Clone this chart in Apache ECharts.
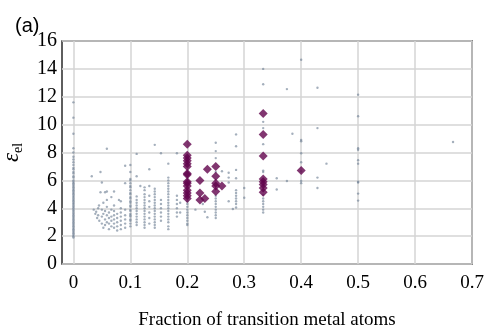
<!DOCTYPE html>
<html>
<head>
<meta charset="utf-8">
<script src="https://cdn.jsdelivr.net/npm/echarts@6/dist/echarts.min.js"></script>
<style>html,body{margin:0;padding:0;background:#fff}#c{width:485px;height:328px}</style>
</head>
<body>
<div id="c"></div>
<script>
const xTicks = [0, 0.1, 0.2, 0.3, 0.4, 0.5, 0.6, 0.7];
const yTicks = [0, 2, 4, 6, 8, 10, 12, 14, 16];

// grey points arranged in vertical columns (x value, list of y values)
const greyColX = [0, 0.1, 0.1111, 0.125, 0.1333, 0.1429, 0.1538, 0.1667, 0.1818, 0.2, 0.25, 0.2857, 0.3333, 0.4, 0.5];
const greyColY = [
  [11.6, 10.5, 9.35, 8.3, 8.0, 7.7, 7.5, 7.3, 7.1, 6.9, 6.8, 6.6, 6.5, 6.3, 6.2, 6.0, 5.9, 5.8, 5.7, 5.6, 5.5, 5.4, 5.3, 5.2, 5.1, 5.0, 4.9, 4.8, 4.7, 4.6, 4.5, 4.4, 4.3, 4.2, 4.1, 4.0, 3.9, 3.8, 3.7, 3.6, 3.5, 3.4, 3.3, 3.2, 3.1, 3.0, 2.9, 2.8, 2.7, 2.6, 2.5, 2.4, 2.3, 2.2, 2.1, 2.0, 1.9],
  [7.1, 6.6, 6.1, 6.0, 5.8, 5.6, 5.5, 5.3, 5.1, 5.0, 4.8, 4.7, 4.5, 4.4, 4.2, 4.1, 3.9, 3.8, 3.6, 3.5, 3.4, 3.2, 3.1, 2.9, 2.7],
  [7.9, 6.3, 4.85, 4.6, 4.4, 4.2, 4.0, 3.8, 3.6, 3.4, 3.2, 3.0, 2.8],
  [5.5, 5.3, 5.0, 4.8, 4.6, 4.4, 4.2, 4.0, 3.8, 3.6, 3.4, 3.2, 3.0, 2.8, 2.6],
  [6.8, 5.6, 4.9, 4.5, 4.1, 3.7, 3.3, 2.9],
  [8.55, 5.4, 5.2, 5.0, 4.8, 4.6, 4.4, 4.2, 4.0, 3.8, 3.6, 3.4, 3.2, 3.0, 2.8, 2.6],
  [7.95, 4.6, 4.3, 4.0, 3.7, 3.4, 3.1],
  [7.2, 6.2, 6.0, 5.8, 5.6, 5.4, 5.2, 5.0, 4.8, 4.6, 4.4, 4.2, 4.0, 3.8, 3.6, 3.4, 3.2, 3.0, 2.7, 2.5],
  [7.95, 4.9, 4.6, 4.3, 4.0, 3.7, 3.4],
  [4.5, 4.3, 4.1, 3.9, 3.7, 3.5, 3.3, 3.1, 2.9, 2.8],
  [8.7, 8.1, 7.6, 6.6, 4.9, 4.7, 4.5, 4.3, 4.1, 3.9, 3.7, 3.5, 3.3],
  [9.3, 8.45, 6.75, 6.15, 5.3, 5.1, 4.9, 4.7, 4.5, 4.3, 4.05],
  [14.0, 12.9, 10.2, 9.75, 8.6, 6.7, 6.6, 4.95, 4.7, 4.5, 4.3, 4.1, 3.9, 3.7],
  [14.65, 8.9, 8.8, 7.95, 7.3, 6.65, 5.95, 5.8],
  [12.15, 10.6, 8.3, 8.2, 7.45, 7.2, 5.9, 5.85, 5.05, 4.55]
];

// low-x cluster of grey points
const greyCluster = [
  [0.0357,3.9],[0.0385,3.6],[0.04,3.75],[0.0417,3.3],[0.0435,4.0],[0.0435,3.5],[0.0455,3.1],[0.05,3.9],[0.05,3.4],[0.05,2.9],
  [0.0526,3.6],[0.0526,2.6],[0.0556,3.8],[0.0556,3.2],[0.0556,2.8],[0.0588,4.1],[0.0588,3.5],[0.0588,3.0],[0.0625,3.7],[0.0625,3.3],
  [0.0625,2.9],[0.0625,2.5],[0.0667,3.9],[0.0667,3.4],[0.0667,3.1],[0.0667,2.7],[0.0714,4.2],[0.0714,3.8],[0.0714,3.5],[0.0714,3.2],
  [0.0714,2.9],[0.0714,2.6],[0.0769,3.6],[0.0769,3.3],[0.0769,3.0],[0.0769,2.7],[0.0769,2.4],[0.0833,4.0],[0.0833,3.7],[0.0833,3.4],
  [0.0833,3.1],[0.0833,2.8],[0.0833,2.5],[0.0909,3.9],[0.0909,3.5],[0.0909,3.2],[0.0909,2.9],[0.0909,2.6],[0.08,4.6],[0.0667,4.8],
  [0.0588,5.2],[0.045,4.2],[0.0588,4.6]
];

// scattered isolated grey points
const greySparse = [
  [0.0588,8.27],[0.0323,6.3],[0.0476,6.6],[0.05,5.85],[0.0476,5.15],[0.0556,5.15],[0.0714,5.2],[0.0526,4.4],
  [0.0909,7.05],[0.0909,5.8],[0.0833,4.5],[0.1176,5.6],[0.1875,4.4],[0.1875,3.7],[0.2143,3.9],[0.2273,4.3],
  [0.2308,3.75],[0.2353,3.35],[0.2609,6.65],[0.2727,6.55],[0.2727,6.2],[0.2727,5.85],[0.2727,4.5],[0.28,3.95],
  [0.3,5.45],[0.3,4.75],[0.3571,6.15],[0.3571,5.35],[0.375,5.95],[0.375,12.55],[0.3846,9.35],[0.4286,12.65],
  [0.4286,9.75],[0.4286,6.2],[0.4286,5.45],[0.4444,7.2],[0.6667,8.75]
];

// highlighted (purple) points
const purplePoints = [
  [0.2,8.6],[0.2,7.8],[0.2,7.6],[0.2,7.4],[0.2,7.2],[0.2,7.0],[0.2,6.5],[0.2,6.4],[0.2,5.9],[0.2,5.8],[0.2,5.6],[0.2,5.3],[0.2,5.1],[0.2,4.9],[0.2,4.7],
  [0.2222,6.0],[0.2222,5.1],[0.2222,4.6],[0.2308,4.7],[0.2353,6.8],
  [0.25,7.0],[0.25,6.3],[0.25,5.8],[0.25,5.6],[0.25,5.2],[0.2609,5.6],
  [0.3333,10.8],[0.3333,9.3],[0.3333,7.75],[0.3333,6.1],[0.3333,5.9],[0.3333,5.7],[0.3333,5.45],[0.3333,5.15],
  [0.4,6.7]
];

const greyData = [];
greyColX.forEach((x, i) => greyColY[i].forEach(y => greyData.push([x, y])));
greyCluster.forEach(p => greyData.push(p));
greySparse.forEach(p => greyData.push(p));

const serif = 'Liberation Serif';
const chart = echarts.init(document.getElementById('c'), null, {renderer: 'canvas'});
chart.setOption({
  animation: false,
  backgroundColor: '#fff',
  title: {
    text: '(a)', left: 10, top: 11,
    textStyle: {fontFamily: 'Liberation Sans', fontSize: 20, fontWeight: 'normal', color: '#000'}
  },
  grid: {left: 62, right: 13, top: 41, bottom: 64, show: true, borderColor: '#2a2a2a', borderWidth: 1.5, outerBoundsMode: 'none'},
  xAxis: {
    type: 'value', min: -0.02, max: 0.7,
    name: 'Fraction of transition metal atoms', nameLocation: 'middle', nameGap: 47,
    nameTextStyle: {fontFamily: serif, fontSize: 19, color: '#000'},
    axisLine: {show: false},
    axisTick: {show: false, customValues: xTicks},
    axisLabel: {customValues: xTicks, fontFamily: serif, fontSize: 19, color: '#000', margin: 10,
      formatter: v => String(Math.round(v * 10) / 10)},
    splitLine: {show: true, lineStyle: {color: '#d4d4d4', width: 1.5}}
  },
  yAxis: {
    type: 'value', min: 0, max: 16, interval: 2,
    name: '{e|ε}{s|el}', nameLocation: 'middle', nameGap: 37,
    nameTextStyle: {rich: {
      e: {fontFamily: serif, fontStyle: 'italic', fontSize: 23, color: '#000', lineHeight: 26},
      s: {fontFamily: serif, fontSize: 14, color: '#000', lineHeight: 14, padding: [12, 0, 0, 0]}
    }},
    axisLine: {show: false},
    axisTick: {show: false},
    axisLabel: {fontFamily: serif, fontSize: 20, color: '#000', margin: 5},
    splitLine: {show: true, lineStyle: {color: '#d4d4d4', width: 1.5}}
  },
  series: [
    {type: 'scatter', data: greyData, symbol: 'circle', symbolSize: 2.4,
     itemStyle: {color: 'rgba(112,130,150,0.8)'}, z: 2},
    {type: 'scatter', data: purplePoints, symbol: 'diamond', symbolSize: 9,
     itemStyle: {color: '#62044c'}, z: 3}
  ]
});
</script>
</body>
</html>
